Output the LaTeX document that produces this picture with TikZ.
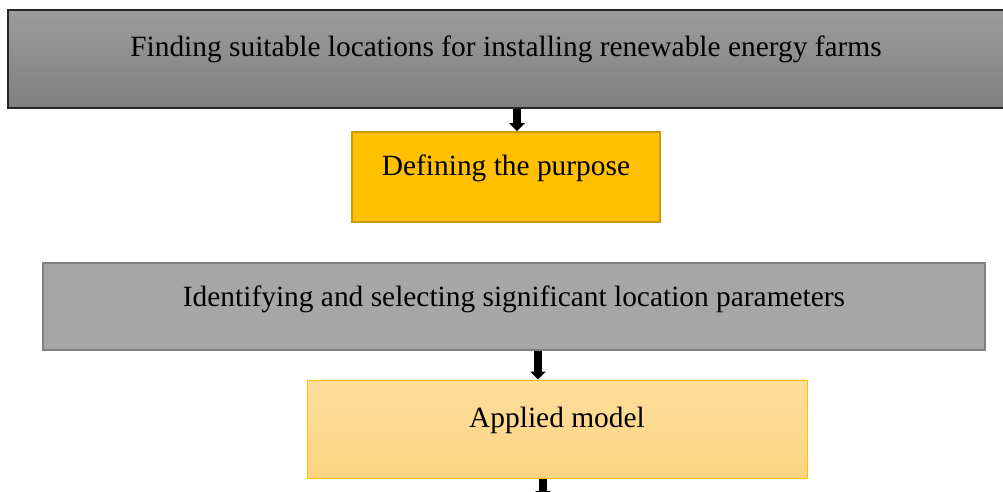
\documentclass[tikz,border=0pt]{standalone}
\usepackage{fontspec}
\setmainfont{Liberation Serif}
\usetikzlibrary{arrows.meta}

\begin{document}
\begin{tikzpicture}[x=0.5pt,y=-0.5pt,
		box/.style = {rectangle,draw,inner sep = 0pt,text height = 10.5pt,text depth = 11.5pt,
			font = \fontsize{14.7}{17.6}\selectfont},
		arrow line/.style = {line width = 3.8pt,-{Triangle[width = 7.5pt,length = 4pt]}}]
		
		\useasboundingbox (0,0) rectangle (1003,492);
		
		\node[box,draw=black!85,line width = 0.75pt,top color = black!39,bottom color = black!50,
			minimum width = 498pt,minimum height = 49pt,text depth = 12.5pt] at (506,59) (1)
			{Finding suitable locations for installing renewable energy farms};
		\node[box,fill={rgb,255:red,255;green,192;blue,0},draw={rgb,255:red,200;green,155;blue,10},
			line width = 0.75pt,minimum width = 154pt,minimum height = 45pt] at (506,177) (2)
			{Defining the purpose};
		\node[box,fill=black!35,draw=black!50,line width = 1.2pt,
			minimum width = 471pt,minimum height = 43.5pt,text depth = 10.5pt] at (514,306.5) (3)
			{Identifying and selecting significant location parameters};
		\node[box,top color={rgb,255:red,254;green,222;blue,156},bottom color={rgb,255:red,253;green,212;blue,129},
			draw={rgb,255:red,255;green,192;blue,0},line width = 0.5pt,
			minimum width = 250pt,minimum height = 49pt] at (557,429) (4)
			{Applied model};
		\coordinate (5) at (543,499);
		
		\path[arrow line]
		([xshift=5.5pt]1.south) edge ([xshift=5.5pt]2.north)
		([xshift=12pt]3.south) edge ([xshift=-9.5pt]4.north)
		([xshift=-7pt]4.south) edge (5);
		\end{tikzpicture}
\end{document}
